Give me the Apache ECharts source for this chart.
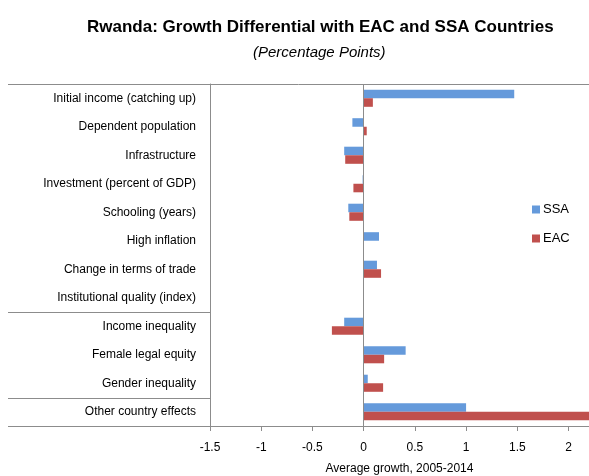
<!DOCTYPE html>
<html><head><meta charset="utf-8">
<script src="https://cdn.jsdelivr.net/npm/echarts@6/dist/echarts.min.js"></script>
<style>html,body{margin:0;padding:0;background:#fff}#c{width:589px;height:476px}</style>
</head><body><div id="c"></div>
<script>
const categories = ["Initial income (catching up)","Dependent population","Infrastructure","Investment (percent of GDP)","Schooling (years)","High inflation","Change in terms of trade","Institutional quality (index)","Income inequality","Female legal equity","Gender inequality","Other country effects"];
const ssa = [1.47,-0.11,-0.19,-0.01,-0.15,0.15,0.13,0,-0.19,0.41,0.04,1.0];
const eac = [0.09,0.03,-0.18,-0.10,-0.14,0,0.17,0,-0.31,0.20,0.19,2.3];
const xTicks = {min:-1.5, max:2.2, interval:0.5};
const groupBreaks = [7, 10]; // separator after these category indices

const FONT = "'Liberation Sans', Arial, sans-serif";
const chart = echarts.init(document.getElementById('c'), null, {renderer:'canvas'});
const GRID = {left:210, right:0, top:84, bottom:50, containLabel:false, outerBoundsMode:'none'};
chart.setOption({
  animation:false,
  textStyle:{fontFamily:FONT},
  title:[
    {text:'Rwanda: Growth Differential with EAC and SSA Countries', left:82, top:14,
     textStyle:{fontSize:17, fontWeight:'bold', color:'#000', fontFamily:FONT}},
    {text:'(Percentage Points)', left:248, top:40,
     textStyle:{fontSize:15, fontStyle:'italic', fontWeight:'normal', color:'#000', fontFamily:FONT}}
  ],
  legend:{orient:'vertical', left:527, top:198, itemWidth:8, itemHeight:8, itemGap:16,
    icon:'rect', textStyle:{fontSize:13, color:'#000', fontFamily:FONT, padding:[0,0,0,-2]},
    data:['SSA','EAC']},
  grid:GRID,
  xAxis:{type:'value', min:xTicks.min, max:xTicks.max, interval:xTicks.interval,
    axisLine:{show:true, lineStyle:{color:'#8c8c8c', width:1}},
    axisTick:{show:true, length:5, lineStyle:{color:'#8c8c8c'}},
    splitLine:{show:false},
    axisLabel:{fontSize:12, color:'#000', margin:16, showMaxLabel:false, fontFamily:FONT},
    name:'Average growth, 2005-2014', nameLocation:'middle', nameGap:37,
    nameTextStyle:{fontSize:12, color:'#000', fontFamily:FONT}},
  yAxis:{type:'category', inverse:true, data:categories,
    axisLine:{show:true, onZero:false, lineStyle:{color:'#8c8c8c', width:1}},
    axisTick:{show:false},
    axisLabel:{fontSize:12, color:'#000', margin:14, fontFamily:FONT}},
  series:[
    {name:'SSA', type:'bar', data:ssa, barWidth:'30%', barGap:'0%', itemStyle:{color:'#659ADB'},
     markLine:{silent:true, symbol:'none', label:{show:false}, lineStyle:{color:'#8c8c8c', type:'solid', width:1},
       data:[{xAxis:0}]}},
    {name:'EAC', type:'bar', data:eac, barWidth:'30%', barGap:'0%', itemStyle:{color:'#C0504D'}}
  ]
});

function addLines(){
  const W = chart.getWidth();
  const step = chart.convertToPixel({yAxisIndex:0}, categories[1]) - chart.convertToPixel({yAxisIndex:0}, categories[0]);
  const y0 = chart.convertToPixel({yAxisIndex:0}, categories[0]) - step/2;
  const yEnd = chart.convertToPixel({yAxisIndex:0}, categories[categories.length-1]) + step/2;
  const x0 = chart.convertToPixel({xAxisIndex:0}, xTicks.min);
  const els = [];
  const ls = {stroke:'#8c8c8c', lineWidth:1};
  els.push({type:'line', shape:{x1:8, y1:Math.round(y0)+0.5, x2:W, y2:Math.round(y0)+0.5}, style:ls, silent:true});
  els.push({type:'line', shape:{x1:8, y1:Math.round(yEnd)+0.5, x2:x0, y2:Math.round(yEnd)+0.5}, style:ls, silent:true});
  groupBreaks.forEach(i=>{
    const y = (chart.convertToPixel({yAxisIndex:0}, categories[i]) + chart.convertToPixel({yAxisIndex:0}, categories[i+1]))/2;
    els.push({type:'line', shape:{x1:8, y1:Math.round(y)+0.5, x2:x0, y2:Math.round(y)+0.5}, style:ls, silent:true});
  });
  chart.setOption({graphic:{elements:els}});
}
addLines();
</script></body></html>
